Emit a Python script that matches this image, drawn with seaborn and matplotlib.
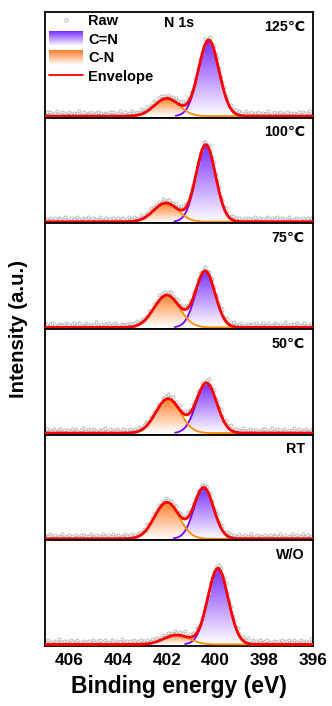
import numpy as np
import pandas as pd
import matplotlib
matplotlib.use("Agg")
import matplotlib.pyplot as plt
import seaborn as sns
from matplotlib.colors import LinearSegmentedColormap
from matplotlib.legend_handler import HandlerBase
from matplotlib.image import BboxImage
from matplotlib.transforms import Bbox, TransformedBbox
from matplotlib.lines import Line2D
from matplotlib.patches import Patch

# ---------------- data ----------------
panels = ["125\u2103", "100\u2103", "75\u2103", "50\u2103", "RT", "W/O"]
cn_double_center = [400.28, 400.40, 400.42, 400.37, 400.48, 399.90]   # C=N
cn_double_height = [0.73, 0.74, 0.54, 0.48, 0.49, 0.73]
cn_double_sigma = [0.42, 0.40, 0.40, 0.42, 0.40, 0.42]
cn_single_center = [402.00, 402.04, 402.00, 401.95, 402.00, 401.60]   # C-N
cn_single_height = [0.17, 0.18, 0.31, 0.33, 0.35, 0.09]
cn_single_sigma = [0.50, 0.50, 0.52, 0.50, 0.50, 0.52]
residuals = [0.02, 0.035, 0.01, 0.04, 0.025, 0.005, 0.03, 0.045, 0.015, 0.02,
             0.038, 0.008, 0.028, 0.012, 0.042, 0.022, 0.003, 0.033, 0.018, 0.027,
             0.048, 0.011, 0.024, 0.036, 0.006, 0.031, 0.016, 0.044, 0.021, 0.009,
             0.029, 0.039, 0.014, 0.026, 0.004, 0.034, 0.019]
xticks = [406, 404, 402, 400, 398, 396]

# ---------------- style ----------------
sns.set_style("white")
plt.rcParams["font.family"] = ["Liberation Sans", "DejaVu Sans"]
plt.rcParams["font.weight"] = "bold"
plt.rcParams["text.color"] = "black"
plt.rcParams["axes.labelcolor"] = "black"
plt.rcParams["xtick.color"] = "black"

C_DOUBLE = "#7A2EFF"
C_SINGLE = "#FF7F2A"
LINE_DOUBLE = "#7B00FF"
LINE_SINGLE = "#FF8C00"
ENV = "#FF0000"

fig = plt.figure(figsize=(3.32, 7.06), dpi=100)
gs = fig.add_gridspec(6, 1, left=45/332, right=313/332, top=1-12/706,
                      bottom=1-646/706, hspace=0)

x = np.linspace(407, 396, 1101)
xr = np.arange(407, 396, -0.07)


def gauss(xx, c, h, s):
    return h * np.exp(-0.5 * ((xx - c) / s) ** 2)


def grad_fill(ax, xx, yy, color):
    poly = ax.fill_between(xx, 0, yy, facecolor="none", edgecolor="none")
    path = poly.get_paths()[0]
    grad = np.linspace(0, 1, 256).reshape(-1, 1)
    cmap = LinearSegmentedColormap.from_list("g", ["white", color])
    im = ax.imshow(grad, extent=[xx.min(), xx.max(), 0, yy.max()], origin="lower",
                   aspect="auto", cmap=cmap, zorder=1, interpolation="bilinear")
    im.set_clip_path(path, transform=ax.transData)


axes = []
for i, name in enumerate(panels):
    ax = fig.add_subplot(gs[i])
    axes.append(ax)
    yd = gauss(x, cn_double_center[i], cn_double_height[i], cn_double_sigma[i])
    ys = gauss(x, cn_single_center[i], cn_single_height[i], cn_single_sigma[i])
    env = yd + ys
    grad_fill(ax, x, ys, C_SINGLE)
    grad_fill(ax, x, yd, C_DOUBLE)

    env_r = gauss(xr, cn_double_center[i], cn_double_height[i], cn_double_sigma[i]) + \
        gauss(xr, cn_single_center[i], cn_single_height[i], cn_single_sigma[i])
    res = np.resize(np.roll(residuals, 5 * i), len(xr))
    raw = pd.DataFrame({"x": xr, "y": env_r + res})
    sns.scatterplot(data=raw, x="x", y="y", ax=ax, marker="o", s=5,
                    facecolor="white", edgecolor="#a6a6a6", linewidth=0.5, zorder=2)

    df = pd.DataFrame({"x": x, "d": yd, "s": ys, "e": env})
    dd = df[df["d"] > 0.004]
    sns.lineplot(data=dd, x="x", y="d", ax=ax, color=LINE_DOUBLE, lw=1.3, zorder=3)
    sns.lineplot(data=df, x="x", y="s", ax=ax, color=LINE_SINGLE, lw=1.3, zorder=3)
    sns.lineplot(data=df, x="x", y="e", ax=ax, color=ENV, lw=2.0, zorder=4)

    ax.set_xlim(407, 396)
    ax.set_ylim(-0.015, 1.0)
    ax.set_yticks([])
    ax.set_xlabel("")
    ax.set_ylabel("")
    ax.set_xticks(xticks)
    ax.tick_params(axis="x", direction="in", length=3, width=1, colors="black",
                   labelsize=12.4, pad=5)
    if i < 5:
        ax.tick_params(axis="x", labelbottom=False)
    for sp in ax.spines.values():
        sp.set_color("black")
        sp.set_linewidth(1.3)
    ax.text(0.97, 0.86, name, transform=ax.transAxes, ha="right", va="center",
            fontsize=10.3, fontweight="bold")

for lab in axes[-1].get_xticklabels():
    lab.set_fontweight("bold")

axes[0].text(0.5, 0.9, "N 1s", transform=axes[0].transAxes, ha="center",
             va="center", fontsize=10.3, fontweight="bold")


class GradHandler(HandlerBase):
    def __init__(self, color):
        super().__init__()
        self.color = color

    def create_artists(self, legend, orig_handle, xdescent, ydescent, width,
                       height, fontsize, trans):
        bb = Bbox.from_bounds(-xdescent, -ydescent - 1, width, height + 2)
        tbb = TransformedBbox(bb, trans)
        cmap = LinearSegmentedColormap.from_list("g", ["white", self.color])
        img = BboxImage(tbb, cmap=cmap, interpolation="bilinear", origin="lower")
        img.set_data(np.linspace(0, 1, 64).reshape(-1, 1))
        return [img]


h_raw = Line2D([], [], marker="o", ls="", markersize=2.5, markerfacecolor="white",
               markeredgecolor="#b0b0b0", markeredgewidth=0.6)
h_d = Patch(facecolor=C_DOUBLE)
h_s = Patch(facecolor=C_SINGLE)
h_e = Line2D([], [], color=ENV, lw=1.3)
leg = axes[0].legend([h_raw, h_d, h_s, h_e], ["Raw", "C=N", "C-N", "Envelope"],
                     handler_map={h_d: GradHandler(C_DOUBLE), h_s: GradHandler(C_SINGLE)},
                     loc="upper left", bbox_to_anchor=(0.0, 1.02), frameon=False,
                     prop={"weight": "bold", "size": 10.5}, handlelength=2.3,
                     handleheight=0.9, handletextpad=0.35, labelspacing=0.3,
                     borderaxespad=0.1, borderpad=0.2)

fig.text(0.055, (1 - 12/706 + 1 - 646/706) / 2, "Intensity (a.u.)", rotation=90,
         ha="center", va="center", fontsize=14.7, fontweight="bold")
fig.text((45/332 + 313/332) / 2, 0.028, "Binding energy (eV)", ha="center",
         va="center", fontsize=16.5, fontweight="bold")

fig.savefig("out.png", dpi=100)
